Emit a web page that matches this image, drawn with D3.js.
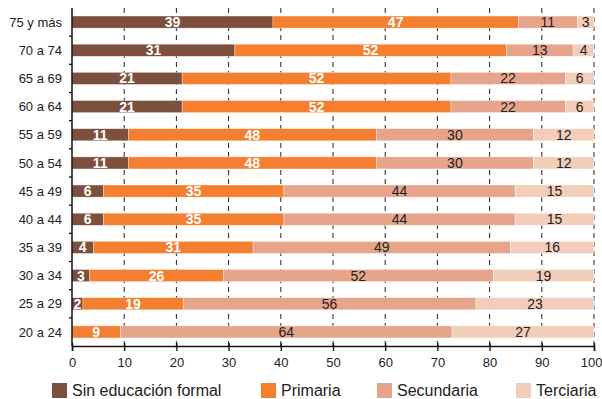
<!DOCTYPE html>
<html><head><meta charset="utf-8">
<script src="https://cdn.jsdelivr.net/npm/d3@7"></script>
<style>body{margin:0;background:#fff}svg{display:block}text{font-family:"Liberation Sans",Arial,sans-serif}</style>
</head><body><div id="chart"></div>
<script>
const categories = ["75 y más","70 a 74","65 a 69","60 a 64","55 a 59","50 a 54","45 a 49","40 a 44","35 a 39","30 a 34","25 a 29","20 a 24"];
const series = ["Sin educación formal","Primaria","Secundaria","Terciaria"];
const sinEducacion = [38.5,31.2,21.1,21.1,10.8,10.8,6.0,6.0,4.1,3.4,2.1,0];
const primaria     = [47.0,52.0,51.5,51.5,47.5,47.5,34.6,34.6,30.6,25.6,19.2,9.3];
const secundaria   = [11.3,12.8,21.9,21.9,30.1,30.1,44.3,44.3,49.3,51.7,56.1,63.5];
const terciaria    = [3.2,4.0,5.5,5.5,11.6,11.6,15.1,15.1,16.0,19.3,22.6,27.2];
const xTicks = [0,10,20,30,40,50,60,70,80,90,100];
const colors = ["#7d4f3d","#f47f30","#e6a58a","#f2cdb9"];
const labelColors = ["#fff","#fff","#222","#222"];
const labelWeights = ["bold","bold","normal","normal"];

const W=602,H=399;
const svg=d3.select("#chart").append("svg").attr("width",W).attr("height",H);
const x=d3.scaleLinear().domain([0,100]).range([72,594]);
const y=d3.scaleBand().domain(categories).range([8,346]).paddingInner(0.57).paddingOuter(0.285);
const yStep=d3.scaleBand().domain(categories).range([8,346]);

// grid
svg.append("g").selectAll("line").data(xTicks.filter(d=>d>0)).join("line")
  .attr("x1",d=>x(d)).attr("x2",d=>x(d)).attr("y1",8).attr("y2",346)
  .attr("stroke","#222").attr("stroke-width",1).attr("stroke-dasharray","5,4");

const keys=["s0","s1","s2","s3"];
const stackData=categories.map((c,i)=>({cat:c,s0:sinEducacion[i],s1:primaria[i],s2:secundaria[i],s3:terciaria[i]}));
const stack=d3.stack().keys(keys)(stackData);

const g=svg.append("g");
stack.forEach((layer,si)=>{
  g.append("g").selectAll("rect").data(layer).join("rect")
    .attr("x",d=>x(d[0])).attr("width",d=>x(d[1])-x(d[0]))
    .attr("y",d=>y(d.data.cat)).attr("height",y.bandwidth())
    .attr("fill",colors[si]).attr("stroke","#fff").attr("stroke-opacity",0.6).attr("stroke-width",0.6);
  g.append("g").selectAll("text").data(layer.filter(d=>d.data[keys[si]]>0.5)).join("text")
    .attr("x",d=>(x(d[0])+x(d[1]))/2).attr("y",d=>y(d.data.cat)+y.bandwidth()/2)
    .attr("dy","0.36em").attr("text-anchor","middle")
    .attr("font-size",14).attr("font-weight",labelWeights[si]).attr("fill",labelColors[si])
    .text(d=>Math.round(d.data[keys[si]]+1e-9));
});

// x axis
const xa=svg.append("g").attr("transform","translate(0,346)")
  .call(d3.axisBottom(x).tickValues(xTicks).tickSize(5).tickPadding(7));
xa.select(".domain").attr("stroke","#111").attr("stroke-width",1.5);
xa.selectAll(".tick line").attr("y1",-3).attr("y2",5).attr("stroke","#111").attr("stroke-width",1.3);
xa.selectAll(".tick text").attr("font-size",13).attr("fill","#222").attr("font-family","Liberation Sans, Arial, sans-serif");
xa.selectAll(".tick text").filter(d=>d===100).attr("text-anchor","end").attr("x",8);

// y axis
svg.append("line").attr("x1",72).attr("x2",72).attr("y1",8).attr("y2",346).attr("stroke","#111").attr("stroke-width",1.5);
svg.append("g").selectAll("line").data(categories.slice(1)).join("line")
  .attr("x1",69).attr("x2",72).attr("y1",d=>yStep(d)).attr("y2",d=>yStep(d))
  .attr("stroke","#111").attr("stroke-width",1.3);
svg.append("g").selectAll("text").data(categories).join("text")
  .attr("x",62).attr("y",d=>yStep(d)+yStep.bandwidth()/2).attr("dy","0.36em")
  .attr("text-anchor","end").attr("font-size",13).attr("fill","#222").text(d=>d);

// legend
const legX=[52,261,377,516];
const leg=svg.append("g").selectAll("g").data(series).join("g")
  .attr("transform",(d,i)=>`translate(${legX[i]},383)`);
leg.append("rect").attr("width",15).attr("height",15).attr("fill",(d,i)=>colors[i]);
leg.append("text").attr("x",20).attr("y",13).attr("font-size",16).attr("fill","#222").text(d=>d);
</script></body></html>
